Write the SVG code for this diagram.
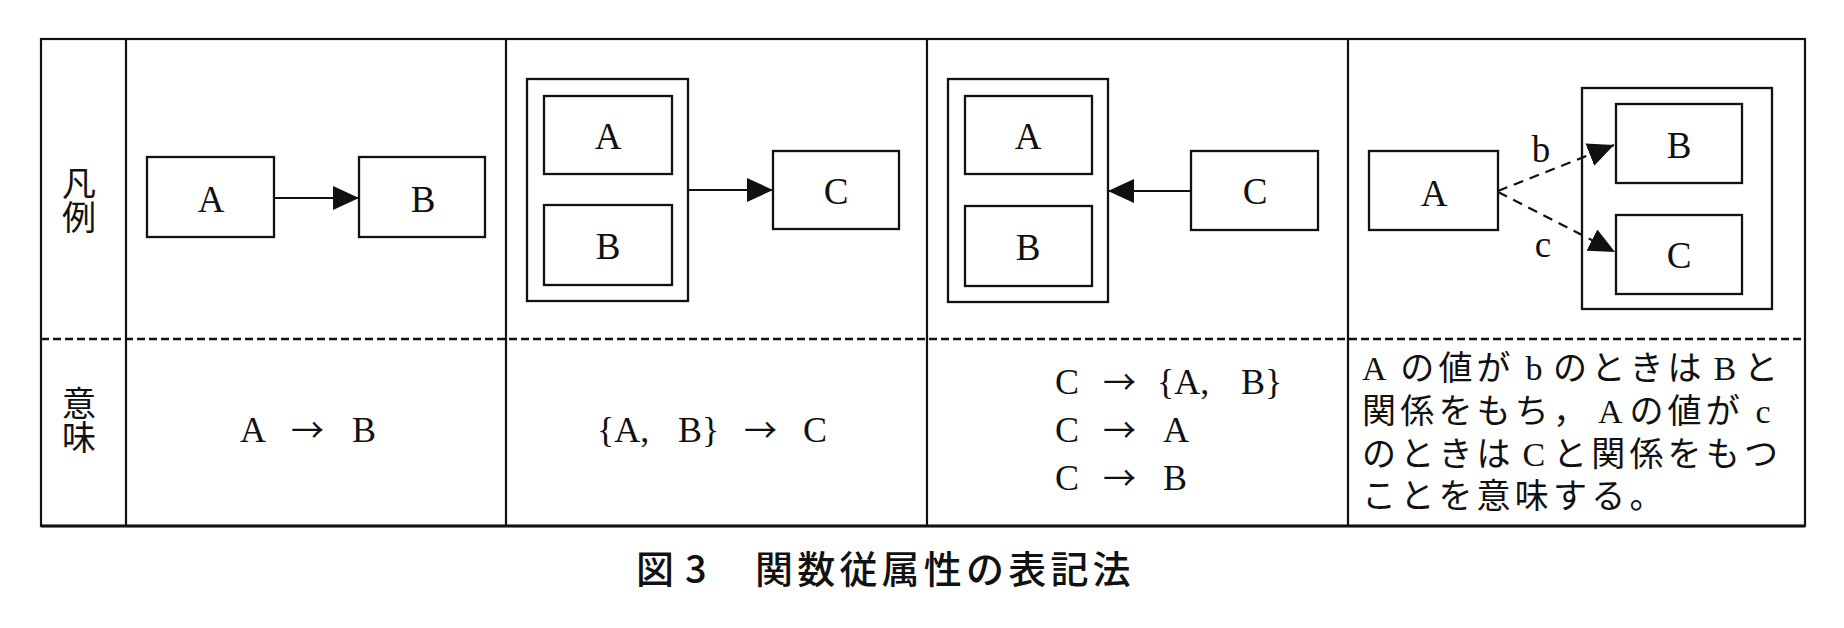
<svg xmlns="http://www.w3.org/2000/svg" width="1844" height="628" viewBox="0 0 1844 628">
<defs>
<marker id="ah" markerUnits="userSpaceOnUse" markerWidth="27" markerHeight="24" refX="26" refY="12" orient="auto"><path d="M0,0 L26,12 L0,24 z" fill="#111"/></marker>
<style>
.box{fill:none;stroke:#111;stroke-width:2.3}
.grid{fill:none;stroke:#111;stroke-width:2.2}
.lat{font-family:"Liberation Serif","Noto Sans CJK JP",serif;font-size:37px;fill:#111;text-anchor:middle}
.math{font-family:"Liberation Serif",serif;font-size:36px;fill:#111}
.arr{font-family:"Noto Sans CJK JP",sans-serif;font-size:33px}
.jp{font-family:"Liberation Serif","Noto Sans CJK JP",serif;font-size:34px;fill:#111}
.lbl{font-family:"Noto Sans CJK JP",sans-serif;font-size:34px;fill:#111;text-anchor:middle;writing-mode:vertical-rl}
.cap{font-family:"Noto Sans CJK JP",sans-serif;font-size:38px;font-weight:500;fill:#111}
.conn{fill:none;stroke:#111;stroke-width:2.2}
.dash{stroke-dasharray:10 7}
</style>
</defs>
<rect width="1844" height="628" fill="#fff"/>
<g id="table">
<rect x="41" y="39" width="1764" height="487" class="grid"/>
<line x1="41" y1="526" x2="1805" y2="526" stroke="#111" stroke-width="3.2"/>
<line x1="126" y1="39" x2="126" y2="526" class="grid"/>
<line x1="506" y1="39" x2="506" y2="526" class="grid"/>
<line x1="927" y1="39" x2="927" y2="526" class="grid"/>
<line x1="1348" y1="39" x2="1348" y2="526" class="grid"/>
<line x1="41" y1="339" x2="1805" y2="339" stroke="#111" stroke-width="2.6" stroke-dasharray="8 4"/>
<text class="lbl" x="79" y="200">凡例</text>
<text class="lbl" x="79" y="420">意味</text>
</g>
<g id="p1-A"><rect x="147" y="157" width="127" height="80" class="box"/><text x="211" y="212" class="lat">A</text></g>
<g id="p1-B"><rect x="359" y="157" width="126" height="80" class="box"/><text x="423" y="212" class="lat">B</text></g>
<g id="p2-AB"><rect x="527" y="79" width="161" height="222" class="box"/>
<rect x="544" y="96" width="128" height="78" class="box"/><text x="608" y="149" class="lat">A</text>
<rect x="544" y="205" width="128" height="80" class="box"/><text x="608" y="259" class="lat">B</text></g>
<g id="p2-C"><rect x="773" y="151" width="126" height="78" class="box"/><text x="836" y="204" class="lat">C</text></g>
<g id="p3-AB"><rect x="948" y="79" width="160" height="223" class="box"/>
<rect x="965" y="96" width="127" height="78" class="box"/><text x="1028" y="149" class="lat">A</text>
<rect x="965" y="206" width="127" height="80" class="box"/><text x="1028" y="260" class="lat">B</text></g>
<g id="p3-C"><rect x="1191" y="151" width="127" height="79" class="box"/><text x="1255" y="204" class="lat">C</text></g>
<g id="p4-A"><rect x="1369" y="151" width="129" height="79" class="box"/><text x="1434" y="206" class="lat">A</text></g>
<g id="p4-BC"><rect x="1582" y="88" width="190" height="221" class="box"/>
<rect x="1616" y="104" width="126" height="79" class="box"/><text x="1679" y="158" class="lat">B</text>
<rect x="1616" y="215" width="126" height="79" class="box"/><text x="1679" y="268" class="lat">C</text></g>
<g id="connectors">
<line x1="274" y1="198" x2="359" y2="198" class="conn" marker-end="url(#ah)"/>
<line x1="688" y1="190" x2="773" y2="190" class="conn" marker-end="url(#ah)"/>
<line x1="1191" y1="191" x2="1108" y2="191" class="conn" marker-end="url(#ah)"/>
<line x1="1498" y1="191" x2="1614" y2="145" class="conn dash" marker-end="url(#ah)"/>
<line x1="1498" y1="192" x2="1615" y2="252" class="conn dash" marker-end="url(#ah)"/>
<text x="1541" y="162" class="lat" font-size="35">b</text>
<text x="1543" y="257" class="lat" font-size="35">c</text>
</g>
<g id="meanings">
<text class="math" y="442"><tspan x="240">A</tspan><tspan x="291" class="arr">→</tspan><tspan x="352">B</tspan></text>
<text class="math" y="442"><tspan x="597">{A,</tspan><tspan x="678">B}</tspan><tspan x="744" class="arr">→</tspan><tspan x="803">C</tspan></text>
<text class="math" y="394"><tspan x="1055">C</tspan><tspan x="1103" class="arr">→</tspan><tspan x="1157">{A,</tspan><tspan x="1241">B}</tspan></text>
<text class="math" y="442"><tspan x="1055">C</tspan><tspan x="1103" class="arr">→</tspan><tspan x="1163">A</tspan></text>
<text class="math" y="490"><tspan x="1055">C</tspan><tspan x="1103" class="arr">→</tspan><tspan x="1163">B</tspan></text>
<text class="jp" y="380" x="1362 1400.2 1438.4 1476.6 1525.4 1553 1591.2 1629.4 1667.6 1713.5 1744">Aの値がbのときはBと</text>
<text class="jp" y="423" x="1362 1400.2 1438.4 1476.6 1514.8 1553 1598 1629.4 1667.6 1705.8 1755.6">関係をもち，Aの値がc</text>
<text class="jp" y="466" x="1362 1400.2 1438.4 1476.6 1522.5 1553 1591.2 1629.4 1667.6 1705.8 1744">のときはCと関係をもつ</text>
<text class="jp" y="508" x="1362 1400.2 1438.4 1476.6 1514.8 1553 1591.2 1629.4">ことを意味する。</text>
</g>
<g id="caption">
<text class="cap" y="583"><tspan x="636">図</tspan><tspan x="685">3</tspan></text>
<text class="cap" x="755" y="583" letter-spacing="4.2">関数従属性の表記法</text>
</g>
</svg>
